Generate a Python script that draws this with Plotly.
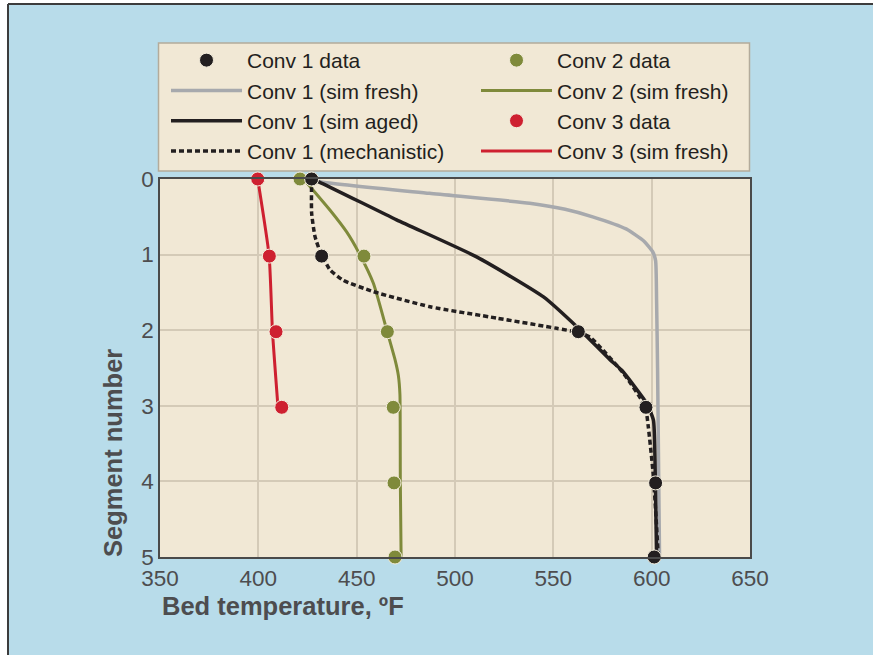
import plotly.graph_objects as go

# ---------------- data ----------------
x_ticks = [350, 400, 450, 500, 550, 600, 650]
y_ticks = [0, 1, 2, 3, 4, 5]

conv1_data_T = [427.1, 432.2, 562.7, 597.1, 602.0, 601.3]
conv1_data_seg = [0, 1.02, 2.02, 3.02, 4.02, 5.0]

conv2_data_T = [421.2, 453.7, 465.6, 468.6, 469.0, 469.5]
conv2_data_seg = [0, 1.02, 2.02, 3.02, 4.02, 5.0]

conv3_data_T = [399.7, 405.6, 409.0, 411.9]
conv3_data_seg = [0, 1.02, 2.02, 3.02]

conv1_fresh_T = [427.0, 432.0, 487.0, 538.0, 556.0, 570.0, 587.0, 596.0, 600.5, 602.0, 602.5, 603.0, 604.0]
conv1_fresh_seg = [0, 0.04, 0.19, 0.32, 0.40, 0.50, 0.66, 0.82, 0.96, 1.08, 1.6, 2.5, 5.0]

conv1_aged_T = [427.0, 431.0, 470.3, 511.0, 545.0, 563.0, 578.8, 584.8, 597.5, 600.9, 601.7, 602.5]
conv1_aged_seg = [0, 0.04, 0.54, 1.03, 1.56, 1.98, 2.39, 2.53, 2.97, 3.19, 3.72, 5.0]

conv1_mech_T = [427.1, 427.1, 428.8, 431.4, 436.4, 443.2, 458.5, 487.3, 521.2, 551.7, 562.8, 568.6, 585.6, 596.7, 598.3, 600.9, 603.4]
conv1_mech_seg = [0, 0.45, 0.76, 0.96, 1.20, 1.34, 1.49, 1.69, 1.84, 1.975, 2.03, 2.09, 2.57, 3.01, 3.28, 3.94, 5.0]

conv2_fresh_T = [423.0, 426.3, 436.4, 444.9, 450.8, 458.5, 465.3, 469.6, 471.2, 472.0, 472.2, 472.6]
conv2_fresh_seg = [0, 0.10, 0.41, 0.70, 0.96, 1.38, 2.0, 2.4, 2.6, 2.85, 4.0, 5.0]

conv3_fresh_T = [399.7, 405.5, 407.2, 410.0]
conv3_fresh_seg = [0, 1.02, 2.02, 3.02]

# ---------------- styles ----------------
BLACK = "#231F20"
GRAY = "#A7A9AD"
OLIVE = "#7F8A3B"
RED = "#CE2030"
CREAM = "#F1E8D5"
BLUE = "#B8DCEA"
TXT = "#4D4D4F"
FONT = "Liberation Sans, Arial, sans-serif"

fig = go.Figure()

def line(x, y, name, color, width, legend, rank, dash="solid"):
    fig.add_trace(go.Scatter(
        x=x, y=y, mode="lines", name=name,
        line=dict(color=color, width=width, dash=dash, shape="spline", smoothing=0.5),
        legend=legend, legendrank=rank, cliponaxis=False, hoverinfo="skip"))

def dots(x, y, name, color, legend, rank):
    fig.add_trace(go.Scatter(
        x=x, y=y, mode="markers", name=name,
        marker=dict(color=color, size=14, line=dict(color="#F5EEDD", width=1)),
        legend=legend, legendrank=rank, cliponaxis=False, hoverinfo="skip"))

line(conv2_fresh_T, conv2_fresh_seg, "Conv 2 (sim fresh)", OLIVE, 3, "legend2", 2)
line(conv3_fresh_T, conv3_fresh_seg, "Conv 3 (sim fresh)", RED, 3, "legend2", 4)
line(conv1_fresh_T, conv1_fresh_seg, "Conv 1 (sim fresh)", GRAY, 3.5, "legend", 2)
line(conv1_aged_T, conv1_aged_seg, "Conv 1 (sim aged)", BLACK, 3.5, "legend", 3)
line(conv1_mech_T, conv1_mech_seg, "Conv 1 (mechanistic)", BLACK, 3.5, "legend", 4, dash="5px,3px")
dots(conv3_data_T, conv3_data_seg, "Conv 3 data", RED, "legend2", 3)
dots(conv2_data_T, conv2_data_seg, "Conv 2 data", OLIVE, "legend2", 1)
dots(conv1_data_T, conv1_data_seg, "Conv 1 data", BLACK, "legend", 1)

# body margin is removed by the post script, so figure coords = screen coords
OFF = 0
W, H = 873 - OFF, 655 - OFF
L, R, T, B = 160 - OFF, 750 - OFF, 179 - OFF, 557 - OFF
pw, ph = R - L, B - T

def px(xs):  # screen x -> paper
    return (xs - OFF - L) / pw

def py(ys):  # screen y -> paper
    return (B - (ys - OFF)) / ph

legend_common = dict(
    yanchor="top", xanchor="left", y=py(40),
    bgcolor="rgba(0,0,0,0)", borderwidth=0,
    font=dict(family=FONT, size=21, color=BLACK),
    itemwidth=71, tracegroupgap=0, orientation="v",
)

shapes = [
    # legend box
    dict(type="rect", xref="paper", yref="paper", x0=px(158.5), x1=px(749.5), y0=py(171), y1=py(43),
         fillcolor=CREAM, line=dict(color="#B3AB9B", width=1.5), layer="below"),
    # white outer strips (left / top)
    dict(type="rect", xref="paper", yref="paper", x0=px(-20), x1=px(8), y0=py(700), y1=py(-20),
         fillcolor="white", line=dict(width=0), layer="below"),
    dict(type="rect", xref="paper", yref="paper", x0=px(-20), x1=px(900), y0=py(4), y1=py(-20),
         fillcolor="white", line=dict(width=0), layer="below"),
    # dark frame edges (left / top)
    dict(type="line", xref="paper", yref="paper", x0=px(8), x1=px(8), y0=py(4), y1=py(700),
         line=dict(color="#3C3C3C", width=2)),
    dict(type="line", xref="paper", yref="paper", x0=px(8), x1=px(900), y0=py(4), y1=py(4),
         line=dict(color="#3C3C3C", width=2)),
]

annotations = [
    dict(text="<b>Bed temperature, ºF</b>", xref="paper", yref="paper", x=px(160), y=py(606),
         xanchor="left", yanchor="middle", showarrow=False,
         font=dict(family=FONT, size=25.5, color=TXT)),
    dict(text="<b>Segment number</b>", xref="paper", yref="paper", x=px(113), y=py(453),
         xanchor="center", yanchor="middle", showarrow=False, textangle=-90,
         font=dict(family=FONT, size=25.5, color=TXT)),
]

axis_common = dict(
    showgrid=True, gridcolor="#D4CAB7", gridwidth=2,
    showline=True, linecolor="#4A4A4A", linewidth=1.5, mirror=True,
    zeroline=False, ticks="",
    tickfont=dict(family=FONT, size=22.5, color=TXT),
)

fig.update_layout(
    width=W, height=H, autosize=False,
    margin=dict(l=L, r=W - R, t=T, b=H - B, pad=0),
    paper_bgcolor=BLUE, plot_bgcolor=CREAM,
    xaxis=dict(range=[350, 650], tickvals=x_ticks, ticktext=[str(v) for v in x_ticks], **axis_common),
    yaxis=dict(range=[5, 0], tickvals=y_ticks, ticktext=[str(v) for v in y_ticks], **axis_common),
    legend=dict(x=px(166), **legend_common),
    legend2=dict(x=px(476), **legend_common),
    shapes=shapes, annotations=annotations,
    showlegend=True,
)

fig.write_html(
    "out.html",
    config={"displayModeBar": False},
    post_script=(
        "document.body.style.margin='0';"
        "document.documentElement.style.overflow='hidden';"
        "document.body.style.overflow='hidden';"
    ),
)
